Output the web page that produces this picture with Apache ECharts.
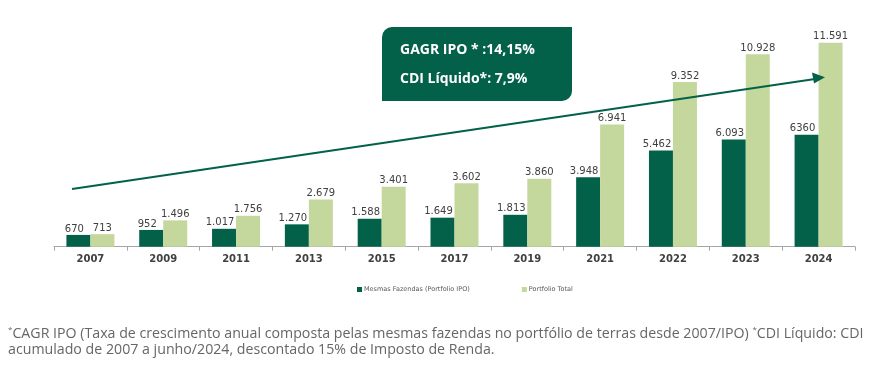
<!DOCTYPE html>
<html><head><meta charset="utf-8">
<script src="https://cdn.jsdelivr.net/npm/echarts@6/dist/echarts.min.js"></script>
<style>html,body{margin:0;padding:0;background:#fff}#c{width:872px;height:372px}</style>
</head><body><div id="c"></div>
<script>
var categories = ['2007','2009','2011','2013','2015','2017','2019','2021','2022','2023','2024'];
var mesmasFazendas = [670,952,1017,1270,1588,1649,1813,3948,5462,6093,6360];
var portfolioTotal = [713,1496,1756,2679,3401,3602,3860,6941,9352,10928,11591];
var mesmasLabels = ['670','952','1.017','1.270','1.588','1.649','1.813','3.948','5.462','6.093','6360'];
var totalLabels = ['713','1.496','1.756','2.679','3.401','3.602','3.860','6.941','9.352','10.928','11.591'];
var seriesNames = ['Mesmas Fazendas (Portfolio IPO)','Portfolio Total'];
var boxLines = ['GAGR IPO * :14,15%','CDI Líquido*: 7,9%'];
var footLine1 = 'CAGR IPO (Taxa de crescimento anual composta pelas mesmas fazendas no portfólio de terras desde 2007/IPO) ';
var footLine1b = 'CDI Líquido: CDI';
var footLine2 = 'acumulado de 2007 a junho/2024, descontado 15% de Imposto de Renda.';

var DARK = '#03614A', LIGHT = '#C4D89E';
var chart = echarts.init(document.getElementById('c'));
chart.setOption({
  animation:false,
  grid:{left:54,right:17,top:35.5,bottom:125.3},
  legend:{top:281,left:352,itemWidth:5,itemHeight:5,itemGap:52,icon:'rect',
    textStyle:{fontFamily:'DejaVu Sans',fontSize:6.5,color:'#595959',padding:[0,0,0,-3]},
    data:seriesNames},
  xAxis:{type:'category',data:categories,
    axisLine:{lineStyle:{color:'#A6A6A6',width:1}},
    axisTick:{show:true,length:4,lineStyle:{color:'#A6A6A6'}},
    axisLabel:{fontFamily:'DejaVu Sans',fontWeight:'bold',fontSize:10,color:'#404040',margin:8}},
  yAxis:{type:'value',min:0,max:12000,show:false,splitLine:{show:false}},
  series:[
    {name:seriesNames[0],type:'bar',data:mesmasFazendas,barWidth:24,barGap:'0%',
     itemStyle:{color:DARK},
     label:{show:true,position:'top',distance:1,offset:[-4,0],fontFamily:'DejaVu Sans',fontSize:10,color:'#404040',
       formatter:function(p){return mesmasLabels[p.dataIndex];}}},
    {name:seriesNames[1],type:'bar',data:portfolioTotal,barWidth:24,
     itemStyle:{color:LIGHT},
     label:{show:true,position:'top',distance:1,fontFamily:'DejaVu Sans',fontSize:10,color:'#404040',
       formatter:function(p){return totalLabels[p.dataIndex];}}}
  ],
  graphic:[
    {type:'line',shape:{x1:72,y1:189,x2:815,y2:79},style:{stroke:DARK,lineWidth:2},z:10},
    {type:'polygon',shape:{points:[[825,77.3],[812,72.5],[814,83.5]]},style:{fill:DARK},z:10},
    {type:'rect',shape:{x:382,y:27,width:190,height:74,r:[10,0,10,0]},style:{fill:DARK},z:20},
    {type:'text',left:400,top:43,style:{text:boxLines[0],fill:'#fff',font:'bold 14px "Open Sans"'},z:21},
    {type:'text',left:400,top:72,style:{text:boxLines[1],fill:'#fff',font:'bold 14px "Open Sans"'},z:21},
    {type:'text',left:8,top:326,style:{
      text:'{s|*}{t|'+footLine1+'}{s|*}{t|'+footLine1b+'}',
      rich:{s:{fontSize:8,verticalAlign:'top',fill:'#666666',fontFamily:'Open Sans',padding:[0,0,8,0]},
            t:{fontSize:14.2,fill:'#666666',fontFamily:'Open Sans'}}}},
    {type:'text',left:8,top:343,style:{text:footLine2,fill:'#666666',font:'14.2px "Open Sans"'}}
  ]
});
</script></body></html>
